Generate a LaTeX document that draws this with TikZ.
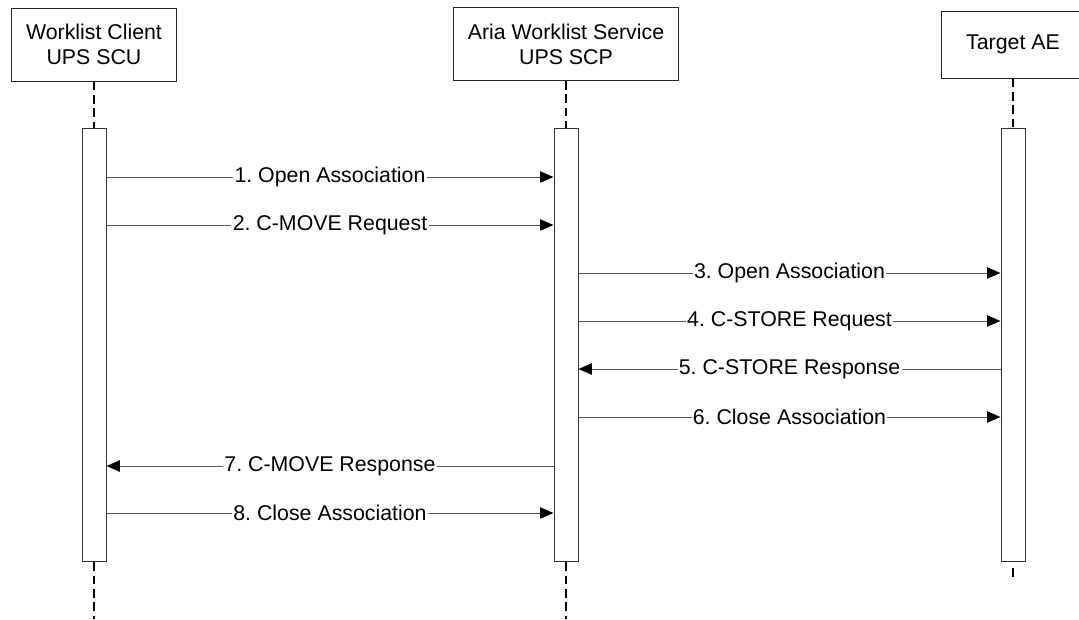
\documentclass[tikz,border=0pt]{standalone}
\usepackage{fontspec}
\setmainfont{Liberation Sans}
\usetikzlibrary{arrows.meta}
\frenchspacing

\begin{document}
\begin{tikzpicture}[x=0.75pt, y=-0.75pt,
    every node/.style={font=\fontsize{16}{18.75}\selectfont},
    actor/.style={draw=black!85, line width=0.75pt, fill=white, align=center},
    bar/.style={draw=black!80, line width=0.75pt, fill=white, inner sep=0pt,
      minimum width=18pt, minimum height=325pt, anchor=north},
    life/.style={line width=1.5pt, dash pattern=on 6.5pt off 3.5pt},
    msg/.style={draw=black!65, line width=0.75pt, -{Triangle[length=10pt,width=8.5pt,black]}},
    lbl/.style={fill=white, inner sep=1pt}]
  \clip (0,0) rectangle (1079,619); % page = 1079 x 619 px
  % the three actors
  \node[actor, minimum width=123.75pt, minimum height=54.75pt] (cli) at (94,44.5) {Worklist Client\\UPS SCU};
  \node[actor, minimum width=168.75pt, minimum height=54.75pt] (srv) at (566,44) {Aria Worklist Service\\UPS SCP};
  \node[actor, minimum width=108pt, minimum height=50.25pt] (tgt) at (1013,44.5) {Target AE};
  % activation bars
  \node[bar] (barC) at (94,128) {};
  \node[bar] (barS) at (566,128) {};
  \node[bar] (barT) at (1013,128) {};
  % lifelines
  \coordinate (endC) at (94,619);
  \coordinate (endS) at (566,619);
  \coordinate (endT) at (1013,577);
  \draw[life] (cli.south) -- (barC.north);
  \draw[life] (srv.south) -- (barS.north);
  \draw[life] (tgt.south) -- (barT.north);
  \draw[life] (barC.south) -- (endC);
  \draw[life] (barS.south) -- (endS);
  \draw[life, dash pattern=on 0pt off 4.5pt on 7.5pt off 10pt] (barT.south) -- (endT); % short stub only
  % messages: y / start / end / text
  \foreach \y/\a/\b/\txt in {177/barC.east/barS.west/1. Open Association,
                             225/barC.east/barS.west/2. C-MOVE Request,
                             273/barS.east/barT.west/3. Open Association,
                             321/barS.east/barT.west/4. C-STORE Request,
                             369/barT.west/barS.east/5. C-STORE Response,
                             417/barS.east/barT.west/6. Close Association,
                             466/barS.west/barC.east/7. C-MOVE Response,
                             513/barC.east/barS.west/8. Close Association}
    \draw[msg] (\a |- 0,\y) -- node[lbl] {\txt} (\b |- 0,\y);
\end{tikzpicture}
\end{document}
